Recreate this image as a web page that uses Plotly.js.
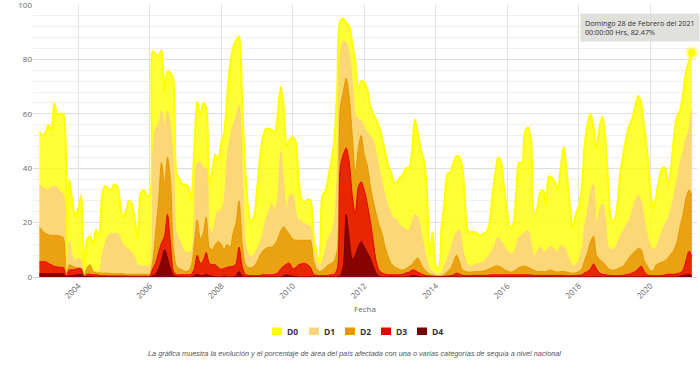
<!DOCTYPE html>
<html>
<head>
<meta charset="utf-8">
<script src="https://cdn.plot.ly/plotly-3.0.1.min.js"></script>
<style>html,body{margin:0;padding:0;background:#fff;}#chart{width:700px;height:365px;}</style>
</head>
<body>
<div id="chart"></div>
<script>
// Monthly series, Nov 2002 .. Feb 2021 (end-of-month dates)
const startYear = 2002, startMonth = 11, nPoints = 220;

const d0 = [
  53.4, 52,
  53, 56, 54, 64, 60, 60, 60, 1, 36, 28, 22, 25,
  30, 3, 14, 15, 12, 17.5, 15, 30, 33.5, 32.5, 32, 34,
  33.5, 28, 22, 24, 28, 27, 21, 14, 31, 32, 30, 30,
  83, 82, 81, 83.5, 68, 75.5, 75, 72, 38, 36, 34, 34,
  33, 28, 47, 64.5, 59, 64, 62, 34, 39, 45, 43, 49,
  53, 66, 78, 84, 87, 88.5, 65, 40, 26, 20, 22, 32,
  44, 51, 54.5, 54.5, 54, 53, 60, 70, 62, 48, 50.4, 51.6,
  49.5, 36, 28.5, 27.4, 28.4, 28.2, 16, 9, 5, 30, 31.5, 37,
  43, 50, 70, 94, 95, 93.3, 92, 86, 79, 69, 72, 71.6,
  69, 63, 60, 58, 55, 51, 46, 41, 38.5, 34.7, 35, 36.5,
  37.7, 40, 40, 45, 58, 53, 47, 43, 33, 8, 16.5, 4,
  3, 18, 27.5, 38, 38.5, 42, 44.4, 44, 40, 25, 16.5, 16.5,
  16.5, 16, 15, 16, 16.5, 19, 29, 38, 44, 42, 32, 24,
  18, 19, 30, 42, 42, 53.4, 55, 50, 23, 25, 31, 32,
  26, 37, 36.5, 35, 32, 40, 48, 38, 27, 18, 23, 26,
  33, 48, 56, 60, 55, 47, 55, 59, 50, 33, 21, 21,
  27, 38, 45, 51, 55.5, 58, 63, 66.5, 64, 55, 46, 33,
  25, 29.5, 36, 40, 40, 33.5, 40, 52, 59, 61, 67, 75.5,
  79.5, 82.47
];
const d1 = [
  34, 33,
  32.5, 32, 33, 33.5, 33, 31, 30.5, 0.5, 13, 8, 6, 7,
  6, 0.5, 3, 3, 2.5, 2, 2, 8, 12, 15, 16, 16,
  16, 15, 12, 11, 10, 9, 7, 4.5, 4, 4, 4, 4,
  45, 54.6, 56, 61, 55, 61, 55, 42, 16, 13.5, 11, 9,
  9, 9, 22, 42, 42, 40, 40, 18, 16, 21, 24.4, 24.5,
  28.5, 44, 51, 56, 59, 63, 42, 13, 8.5, 7.5, 8.5, 10,
  12.5, 16, 21, 24, 27, 24, 30, 46, 34, 24, 30, 30,
  24, 21, 20.5, 19.6, 19, 18.4, 10, 6, 4, 6, 10, 14,
  16.5, 20, 40, 82, 86.7, 86, 82, 72, 60, 58, 57.5, 55,
  53, 52, 50, 45.5, 40, 35, 30, 26, 23, 21.5, 21, 19,
  18.4, 17.5, 17, 20, 23, 22, 17, 11.5, 6, 3, 2, 1,
  0.8, 1.5, 4, 7, 10, 14, 16.5, 17, 11, 6, 4, 4,
  4.5, 5, 5, 5.5, 6.5, 8, 10, 12.5, 14.5, 13, 11.5, 9.5,
  8.7, 8.7, 11, 14.5, 15.5, 16.5, 17, 12, 7.5, 9, 11, 10,
  9, 11, 11, 10, 9, 11.5, 11, 8.5, 6, 4, 4.5, 6,
  10, 18, 24, 31, 34, 19, 24, 27, 21, 11, 10, 10.5,
  12.5, 15, 17, 19, 21, 24, 28, 30, 27.5, 21, 15.5, 11.5,
  10, 11, 14, 17, 19.5, 21.5, 25, 30, 35.5, 42, 46, 51,
  54, 62
];
const d2 = [
  18.3, 17,
  16, 15.5, 15.3, 15.3, 15.3, 15, 14.5, 0.3, 4.5, 4, 3.5, 3.5,
  3, 0.3, 3.5, 4.5, 2, 1.5, 1.5, 1.4, 1.4, 1.4, 1.2, 1.2,
  1.2, 1.2, 1.2, 1, 1, 1, 1, 1, 1, 1, 1, 1,
  6, 16, 28, 42, 34, 44, 35, 10, 4, 3, 2.5, 2,
  2.3, 4, 12, 21, 14, 16, 22, 11, 10, 12, 13, 12,
  10, 12, 11, 16, 20, 28, 13, 5, 3.5, 3.3, 4, 5.5,
  8, 9.5, 10.5, 11, 11, 12, 14, 17, 18.4, 17, 15.5, 14,
  13.5, 13.5, 13.5, 13.5, 13.5, 13.5, 6, 3, 2, 2.5, 3.5, 4.5,
  5, 6, 10, 62, 68, 73, 66, 52, 38, 47, 52, 45,
  41, 34, 28, 23.5, 19, 16, 11, 7.5, 5, 3.9, 3.2, 2.7,
  2.6, 3, 3.8, 4.5, 6, 7, 5, 3, 2, 1, 0.8, 0.5,
  0.4, 0.5, 1, 2, 3, 5.5, 8, 5.5, 2.5, 2, 1.8, 1.8,
  2, 2, 2, 2.2, 2.5, 3, 3.5, 4, 4, 3.5, 2.8, 2.2,
  1.8, 2, 2.8, 3.5, 3.8, 4, 3.5, 3, 2.5, 2, 2, 2,
  2, 2.5, 2.5, 2, 1.8, 2, 2, 1.8, 1.5, 1.4, 1.5, 2,
  3, 6, 9, 13, 15, 8, 6.5, 5.5, 4.5, 3, 2.5, 2.5,
  3, 3.5, 4, 5.5, 7, 8.5, 9.5, 10.5, 10, 6, 4, 2.5,
  2.2, 4.5, 5, 5.5, 6, 7, 8.5, 10, 13, 18.5, 23, 29,
  32, 30
];
const d3 = [
  5.6, 5.6,
  5.6, 5, 4.5, 3.9, 3.7, 3.5, 3.5, 0.2, 2.6, 2.6, 2.8, 3,
  3, 0.2, 1, 1, 0.8, 0.8, 0.6, 0.5, 0.5, 0.4, 0.4, 0.4,
  0.4, 0.4, 0.4, 0.4, 0.3, 0.3, 0.3, 0.3, 0.3, 0.3, 0.3, 0.3,
  3, 5, 9, 12.5, 15, 23, 12, 2, 0.8, 0.8, 0.8, 0.8,
  0.8, 1, 3, 8, 5, 6, 9, 5, 4.5, 4.5, 3.5, 2.8,
  3.2, 3.5, 3.8, 3.9, 5, 11, 4, 1, 0.6, 0.5, 0.5, 0.5,
  0.6, 0.8, 0.8, 0.8, 0.8, 1, 1.5, 3, 4, 4.8, 5, 3,
  3.5, 4.5, 4.8, 5, 4.5, 3.5, 1, 0.6, 0.5, 0.5, 0.5, 0.6,
  0.8, 1, 3, 40, 45, 47.4, 42, 30, 23, 33, 35, 32,
  27, 21, 13.5, 6, 2.5, 1.5, 1, 0.8, 0.8, 0.8, 0.8, 0.8,
  1, 1.5, 1.7, 2.5, 2.5, 1.8, 1.2, 0.8, 0.5, 0.4, 0.3, 0.2,
  0.2, 0.2, 0.3, 0.4, 0.5, 0.8, 1.4, 1, 0.6, 0.5, 0.5, 0.5,
  0.6, 0.6, 0.6, 0.6, 0.6, 0.7, 0.8, 0.8, 0.8, 0.8, 0.8, 0.8,
  0.8, 0.8, 0.8, 0.8, 0.8, 0.8, 0.8, 0.7, 0.6, 0.6, 0.6, 0.6,
  0.6, 0.6, 0.6, 0.6, 0.6, 0.6, 0.6, 0.5, 0.5, 0.5, 0.5, 0.6,
  0.8, 1.5, 2, 3, 4.8, 3, 1.5, 1, 0.8, 0.6, 0.5, 0.5,
  0.5, 0.5, 0.6, 0.8, 1, 1.5, 2, 3, 4, 2, 0.8, 0.5,
  0.5, 0.5, 0.5, 0.6, 0.8, 1, 1, 1, 1.2, 1.5, 2.5, 6,
  9.5, 7.5
];
const d4 = [
  1.2, 1.2,
  1.2, 1.2, 1.2, 1.2, 1.2, 1.2, 1.2, 0.1, 0.5, 0.5, 0.7, 0.8,
  1, 0.1, 0.2, 0.2, 0.1, 0, 0, 0, 0, 0, 0, 0,
  0, 0, 0, 0, 0, 0, 0, 0, 0, 0, 0, 0,
  0.5, 1, 3, 6, 10, 7, 3, 0.5, 0.2, 0, 0, 0,
  0, 0, 0.5, 1, 0.5, 0.5, 1, 0.5, 0.3, 0, 0, 0,
  0.3, 0, 0, 0, 0.5, 2, 0.3, 0, 0, 0, 0, 0,
  0, 0, 0, 0, 0, 0, 0, 0, 0.5, 0.8, 0.5, 0.3,
  0.2, 0, 0, 0, 0, 0, 0, 0, 0, 0, 0, 0,
  0, 0, 0, 0.5, 4, 23, 14, 6.5, 8, 11, 13, 11,
  9, 7, 4, 1.5, 0.3, 0, 0, 0, 0, 0, 0, 0,
  0, 0, 0, 0.5, 0.5, 0.3, 0, 0, 0, 0, 0, 0,
  0, 0, 0, 0, 0, 0, 0, 0, 0, 0, 0, 0,
  0, 0, 0, 0, 0, 0, 0, 0, 0, 0, 0, 0,
  0, 0, 0, 0, 0, 0, 0, 0, 0, 0, 0, 0,
  0, 0, 0, 0, 0, 0, 0, 0, 0, 0, 0, 0,
  0, 0, 0, 0, 0, 0, 0, 0, 0, 0, 0, 0,
  0, 0, 0, 0, 0, 0, 0, 0, 0, 0, 0, 0,
  0, 0, 0, 0, 0, 0, 0, 0, 0, 0.3, 0.5, 0.8,
  0.8, 0.5
];

const categories = ['D0', 'D1', 'D2', 'D3', 'D4'];
const seriesValues = [d0, d1, d2, d3, d4];
const lineColors = ['#ffff00', '#fcd37f', '#e69800', '#e60000', '#730000'];
const fillColors = ['rgba(255,255,0,0.78)', 'rgba(252,211,127,0.9)', 'rgba(230,152,0,0.85)', 'rgba(232,20,0,0.88)', 'rgba(125,0,0,0.9)'];
const legendColors = ['#ffff00', '#fcd37f', '#e69800', '#ee0000', '#730000'];
const tooltipText = 'Domingo 28 de Febrero del 2021<br>00:00:00 Hrs, 82.47%';
const captionText = 'La gráfica muestra la evolución y el porcentaje de área del país afectada con una o varias categorías de sequía a nivel nacional';

// end-of-month dates
const dates = [];
for (let i = 0; i < nPoints; i++) {
  const y = startYear + Math.floor((startMonth - 1 + i) / 12);
  const m = (startMonth - 1 + i) % 12;
  const day = new Date(Date.UTC(y, m + 1, 0)).getUTCDate();
  dates.push(y + '-' + String(m + 1).padStart(2, '0') + '-' + String(day).padStart(2, '0'));
}

const traces = categories.map((c, i) => ({
  type: 'scatter', mode: 'lines', name: c,
  x: dates, y: seriesValues[i],
  line: {color: lineColors[i], width: i === 0 ? 2 : 1, shape: 'spline', smoothing: 0.8},
  fill: 'tozeroy', fillcolor: fillColors[i],
  hoverinfo: 'skip', showlegend: false
}));
const last = nPoints - 1;
traces.push({
  type: 'scatter', mode: 'markers', x: [dates[last]], y: [d0[last]],
  marker: {size: 8, color: '#ffff00', line: {color: 'rgba(255,255,0,0.35)', width: 5}},
  hoverinfo: 'skip', showlegend: false, cliponaxis: false
});

const L = 33, R = 697, T = 5, B = 277;
const px = x => (x - L) / (R - L);
const py = y => (B - y) / (B - T);

const shapes = [];
const annotations = [];
const legendX = [272, 309, 345, 381, 417];
categories.forEach((c, i) => {
  shapes.push({type: 'rect', xref: 'paper', yref: 'paper',
    x0: px(legendX[i]), x1: px(legendX[i] + 10), y0: py(335), y1: py(327.5),
    fillcolor: legendColors[i], line: {width: 0}});
  annotations.push({xref: 'paper', yref: 'paper', x: px(legendX[i] + 13), y: py(331.3),
    xanchor: 'left', yanchor: 'middle', showarrow: false,
    text: '<b>' + c + '</b>', font: {family: 'Open Sans', size: 8.5, color: '#333333'}});
});
annotations.push({xref: 'paper', yref: 'paper', x: px(354.7), y: py(353),
  xanchor: 'center', yanchor: 'middle', showarrow: false,
  text: '<i>' + captionText + '</i>',
  font: {family: 'Liberation Sans', size: 7.3, color: '#555555'}});
annotations.push({xref: 'paper', yref: 'paper', x: px(579.5), y: py(13.3),
  xanchor: 'left', yanchor: 'top', showarrow: false, align: 'left',
  text: tooltipText, bgcolor: 'rgba(222,222,218,0.95)', borderpad: 4,
  font: {family: 'Open Sans', size: 7.2, color: '#333333'}});

const layout = {
  width: 700, height: 365,
  margin: {l: L, r: 700 - R, t: T, b: 365 - B},
  paper_bgcolor: '#ffffff', plot_bgcolor: '#ffffff',
  showlegend: false,
  font: {family: 'Open Sans', color: '#666666'},
  xaxis: {
    type: 'date', range: ['2002-09-25', '2021-04-22'],
    tick0: '2004-01-01', dtick: 'M24', tickformat: '%Y', tickangle: -45,
    showgrid: true, gridcolor: '#e3e3e3', gridwidth: 1,
    showline: true, linecolor: '#ccd6eb', linewidth: 1,
    ticks: '', tickfont: {size: 8, color: '#666666'},
    zeroline: false,
    title: {text: 'Fecha', font: {size: 8, color: '#666666'}, standoff: 6}
  },
  yaxis: {
    range: [0, 100], dtick: 20, tick0: 0,
    showgrid: true, gridcolor: '#dedede', gridwidth: 1,
    minor: {dtick: 4, showgrid: true, gridcolor: '#f0f0f0', gridwidth: 1},
    zeroline: false, showline: false, ticks: '',
    ticklabeloverflow: 'allow',
    tickfont: {size: 8, color: '#666666'}
  },
  shapes: shapes,
  annotations: annotations
};

Plotly.newPlot('chart', traces, layout, {displayModeBar: false, staticPlot: true});
</script>
</body>
</html>
